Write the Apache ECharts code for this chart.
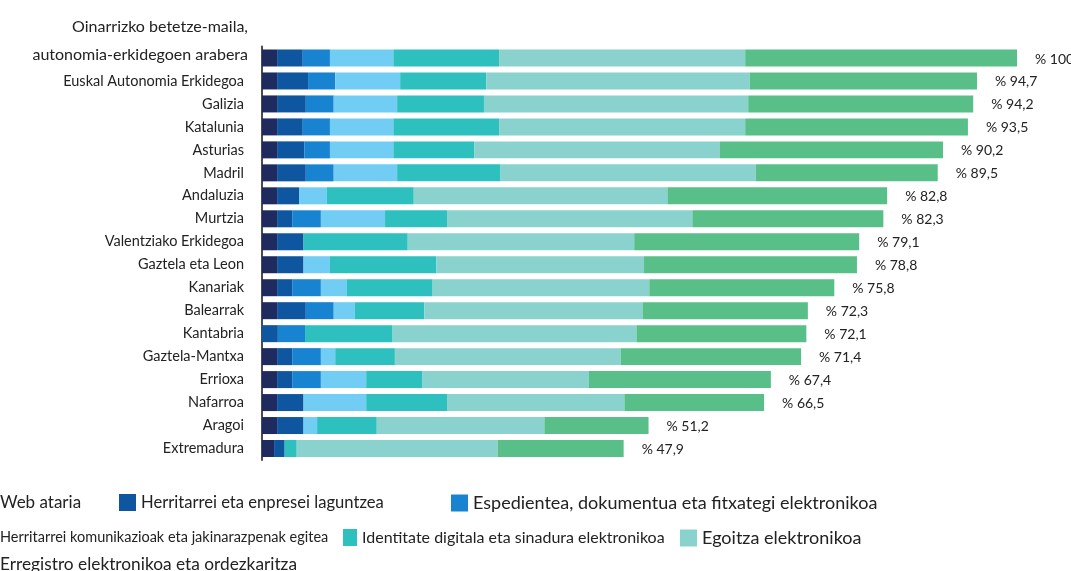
<!DOCTYPE html>
<html>
<head>
<meta charset="utf-8">
<script src="https://cdn.jsdelivr.net/npm/echarts@6/dist/echarts.min.js"></script>
<style>
html,body{margin:0;padding:0;background:#fff;}
#c{width:1071px;height:571px;}
</style>
</head>
<body>
<div id="c"></div>
<script>
const categories = ["", "Euskal Autonomia Erkidegoa", "Galizia", "Katalunia", "Asturias", "Madril", "Andaluzia", "Murtzia", "Valentziako Erkidegoa", "Gaztela eta Leon", "Kanariak", "Balearrak", "Kantabria", "Gaztela-Mantxa", "Errioxa", "Nafarroa", "Aragoi", "Extremadura"];
const totals = [100, 94.7, 94.2, 93.5, 90.2, 89.5, 82.8, 82.3, 79.1, 78.8, 75.8, 72.3, 72.1, 71.4, 67.4, 66.5, 51.2, 47.9];
const webAtaria =        [2.0, 2.0, 2.0, 2.0, 2.0, 2.0, 2.0, 2.0, 2.0, 2.0, 2.0, 2.0, 0, 2.0, 2.0, 2.0, 2.0, 1.6];
const laguntzea =        [3.4, 4.1, 3.8, 3.4, 3.6, 3.8, 2.9, 2.0, 3.5, 3.5, 2.0, 3.8, 2.1, 2.0, 2.0, 3.5, 3.5, 1.4];
const espedientea =      [3.6, 3.6, 3.7, 3.6, 3.4, 3.7, 0, 3.8, 0, 0, 3.8, 3.7, 3.6, 3.8, 3.8, 0, 0, 0];
const komunikazioak =    [8.4, 8.6, 8.4, 8.4, 8.4, 8.4, 3.7, 8.5, 0, 3.5, 3.4, 2.8, 0, 1.9, 6.0, 8.3, 1.8, 0];
const identitatea =      [14.0, 11.4, 11.5, 14.0, 10.7, 13.7, 11.5, 8.2, 13.8, 14.1, 11.4, 9.2, 11.6, 7.9, 7.4, 10.7, 7.9, 1.6];
const egoitza =          [32.6, 34.9, 35.0, 32.6, 32.5, 33.8, 33.6, 32.5, 30.0, 27.5, 28.7, 28.9, 32.3, 29.9, 22.1, 23.5, 22.2, 26.6];
const erregistroa =      [36.0, 30.1, 29.8, 29.5, 29.6, 24.1, 29.1, 25.3, 29.8, 28.2, 24.5, 21.9, 22.5, 23.9, 24.1, 18.5, 13.8, 16.7];

const seriesNames = [
  "Web ataria",
  "Herritarrei eta enpresei laguntzea",
  "Espedientea, dokumentua eta fitxategi elektronikoa",
  "Herritarrei komunikazioak eta jakinarazpenak egitea",
  "Identitate digitala eta sinadura elektronikoa",
  "Egoitza elektronikoa",
  "Erregistro elektronikoa eta ordezkaritza"
];
const seriesData = [webAtaria, laguntzea, espedientea, komunikazioak, identitatea, egoitza, erregistroa];
const colors = ["#1f2b5e", "#0f56a0", "#1883d0", "#72cdf4", "#2ebfbf", "#8ad2ce", "#58bf89"];

const FONT = "Lato";
const series = seriesNames.map((n, i) => {
  const s = {
    name: n,
    type: 'bar',
    stack: 'total',
    data: seriesData[i],
    barCategoryGap: '26%',
    itemStyle: { color: colors[i] },
    emphasis: { disabled: true }
  };
  if (i === seriesNames.length - 1) {
    s.label = {
      show: true,
      position: 'right',
      distance: 18,
      offset: [0, 1],
      color: '#222',
      fontFamily: FONT,
      fontSize: 14,
      formatter: p => '% ' + String(totals[p.dataIndex]).replace('.', ',')
    };
  }
  return s;
});

// legend layout: [seriesIndex, left, top, fontSize, swatchWidth]
const legendLayout = [
  [0, -5, 494, 17, 0],
  [1, 119, 494, 16.6, 17],
  [2, 451, 494, 18, 17],
  [3, -5, 529, 14.5, 0],
  [4, 343, 529, 16, 14],
  [5, 680, 529, 18, 17],
  [6, -5, 556, 17.3, 0]
];
const legends = legendLayout.map(([i, l, t, fs, sw]) => ({
  data: [seriesNames[i]],
  left: l,
  top: t,
  itemWidth: sw,
  itemHeight: 17,
  icon: 'rect',
  selectedMode: false,
  padding: 0,
  textStyle: { fontFamily: FONT, fontSize: fs, color: '#222' }
}));

const chart = echarts.init(document.getElementById('c'), null, { renderer: 'canvas' });
chart.setOption({
  animation: false,
  backgroundColor: '#fff',
  color: colors,
  title: {
    text: 'Oinarrizko betetze-maila,\nautonomia-erkidegoen arabera',
    left: 243,
    top: 8,
    textAlign: 'right',
    textStyle: { fontFamily: FONT, fontSize: 16, fontWeight: 'normal', color: '#222', lineHeight: 28, align: 'right' }
  },
  legend: legends,
  grid: { left: 262, right: 54, top: 46.5, bottom: 111, containLabel: false },
  xAxis: { type: 'value', min: 0, max: 100, show: false },
  yAxis: {
    type: 'category',
    inverse: true,
    data: categories,
    axisTick: { show: false },
    axisLine: { show: true, lineStyle: { color: '#4a4a5a', width: 2 } },
    axisLabel: { margin: 18, fontFamily: FONT, fontSize: 14.5, color: '#222' }
  },
  series: series
});
</script>
</body>
</html>
